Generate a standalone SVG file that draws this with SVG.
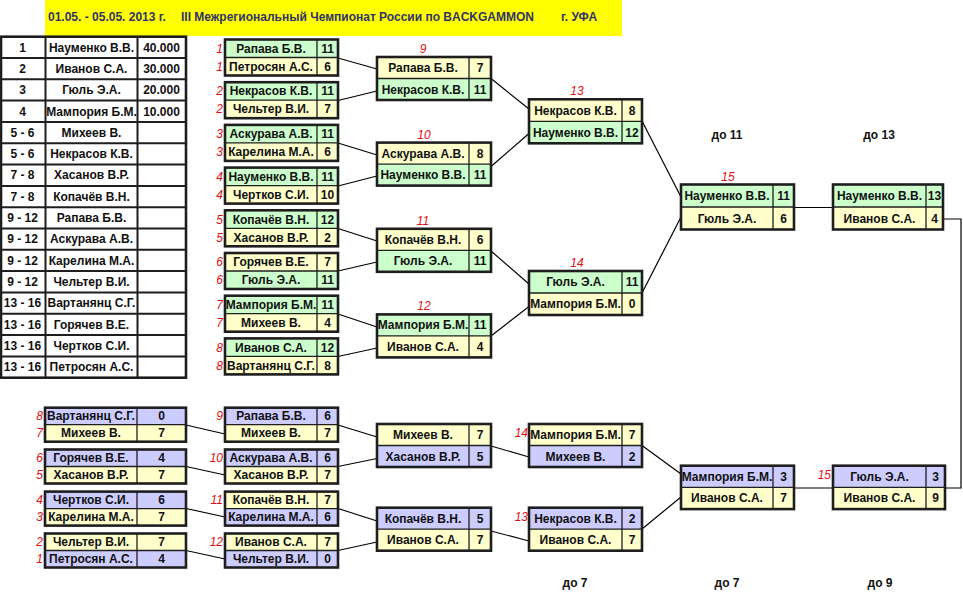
<svg xmlns="http://www.w3.org/2000/svg" width="963" height="600" viewBox="0 0 963 600">
<style>
text{font-family:"Liberation Sans",Arial,sans-serif;font-weight:bold;font-size:12px;fill:#111}
.t{font-size:12px;fill:#33336b}
.c{text-anchor:middle}
.lb{font-weight:normal;font-style:italic;fill:#e01010;font-size:12px}
.e{text-anchor:end}
.g{fill:#ccffcc}.y{fill:#ffffcc}.b{fill:#ccccff}.w{fill:#fff}
.fr{fill:none;stroke:#1e1e1e;stroke-width:2.6}
.sp{stroke:#1e1e1e;stroke-width:1.3}
.tl{stroke:#1e1e1e;stroke-width:2}
.cn{fill:none;stroke:#000;stroke-width:1.2}
</style>
<rect x="45" y="0" width="577" height="36" fill="#ffff00"/>
<text class="t" y="21"><tspan x="48">01.05. - 05.05. 2013 г.</tspan><tspan x="181">III Межрегиональный Чемпионат России по BACKGAMMON</tspan><tspan x="561">г. УФА</tspan></text>

<g id="standings">
<rect class="w" x="1" y="36.7" width="185" height="341"/>
<g class="tl">
<line x1="1" y1="58" x2="186" y2="58"/><line x1="1" y1="79.3" x2="186" y2="79.3"/><line x1="1" y1="100.6" x2="186" y2="100.6"/><line x1="1" y1="121.9" x2="186" y2="121.9"/><line x1="1" y1="143.2" x2="186" y2="143.2"/><line x1="1" y1="164.6" x2="186" y2="164.6"/><line x1="1" y1="185.9" x2="186" y2="185.9"/><line x1="1" y1="207.2" x2="186" y2="207.2"/><line x1="1" y1="228.5" x2="186" y2="228.5"/><line x1="1" y1="249.8" x2="186" y2="249.8"/><line x1="1" y1="271.1" x2="186" y2="271.1"/><line x1="1" y1="292.4" x2="186" y2="292.4"/><line x1="1" y1="313.7" x2="186" y2="313.7"/><line x1="1" y1="335.1" x2="186" y2="335.1"/><line x1="1" y1="356.4" x2="186" y2="356.4"/>
<line x1="45.5" y1="36.7" x2="45.5" y2="377.7"/><line x1="137.5" y1="36.7" x2="137.5" y2="377.7"/>
</g>
<rect class="fr" x="1" y="36.7" width="185" height="341"/>
<g class="c">
<text x="22.5" y="51.6">1</text><text x="91.5" y="51.6">Науменко В.В.</text><text x="161.5" y="51.6">40.000</text>
<text x="22.5" y="72.9">2</text><text x="91.5" y="72.9">Иванов С.А.</text><text x="161.5" y="72.9">30.000</text>
<text x="22.5" y="94.2">3</text><text x="91.5" y="94.2">Гюль Э.А.</text><text x="161.5" y="94.2">20.000</text>
<text x="22.5" y="115.5">4</text><text x="91.5" y="115.5">Мампория Б.М.</text><text x="161.5" y="115.5">10.000</text>
<text x="22.5" y="136.8">5 - 6</text><text x="91.5" y="136.8">Михеев В.</text>
<text x="22.5" y="158.1">5 - 6</text><text x="91.5" y="158.1">Некрасов К.В.</text>
<text x="22.5" y="179.4">7 - 8</text><text x="91.5" y="179.4">Хасанов В.Р.</text>
<text x="22.5" y="200.7">7 - 8</text><text x="91.5" y="200.7">Копачёв В.Н.</text>
<text x="22.5" y="222">9 - 12</text><text x="91.5" y="222">Рапава Б.В.</text>
<text x="22.5" y="243.3">9 - 12</text><text x="91.5" y="243.3">Аскурава А.В.</text>
<text x="22.5" y="264.6">9 - 12</text><text x="91.5" y="264.6">Карелина М.А.</text>
<text x="22.5" y="285.9">9 - 12</text><text x="91.5" y="285.9">Чельтер В.И.</text>
<text x="22.5" y="307.2">13 - 16</text><text x="91.5" y="307.2">Вартанянц С.Г.</text>
<text x="22.5" y="328.5">13 - 16</text><text x="91.5" y="328.5">Горячев В.Е.</text>
<text x="22.5" y="349.8">13 - 16</text><text x="91.5" y="349.8">Чертков С.И.</text>
<text x="22.5" y="371.1">13 - 16</text><text x="91.5" y="371.1">Петросян А.С.</text>
</g>
</g>

<g id="connectors" class="cn">
<line x1="338" y1="58" x2="377" y2="69"/>
<line x1="338" y1="100.5" x2="377" y2="91"/>
<line x1="338" y1="143" x2="377" y2="155"/>
<line x1="338" y1="186" x2="377" y2="176"/>
<line x1="338" y1="228.5" x2="377" y2="241"/>
<line x1="338" y1="271" x2="377" y2="262"/>
<line x1="338" y1="314" x2="377" y2="327"/>
<line x1="338" y1="356.5" x2="377" y2="348"/>
<line x1="491" y1="78.5" x2="529" y2="109"/>
<line x1="491" y1="166.5" x2="529" y2="133.5"/>
<line x1="491" y1="251" x2="529" y2="284"/>
<line x1="491" y1="336" x2="529" y2="306.5"/>
<line x1="642" y1="121" x2="681" y2="197"/>
<line x1="642" y1="293" x2="681" y2="217"/>
<line x1="794" y1="207.5" x2="833" y2="207.5"/>
<polyline points="943,219 961,219 961,488 945,488"/>
<line x1="186" y1="425" x2="225" y2="434"/>
<line x1="186" y1="466.5" x2="225" y2="475"/>
<line x1="186" y1="508.5" x2="225" y2="517"/>
<line x1="186" y1="550.5" x2="225" y2="559"/>
<line x1="338" y1="425" x2="377" y2="437"/>
<line x1="338" y1="466.5" x2="377" y2="458.5"/>
<line x1="338" y1="508.5" x2="377" y2="521"/>
<line x1="338" y1="550.5" x2="377" y2="542"/>
<line x1="491" y1="446" x2="529" y2="457"/>
<line x1="491" y1="531" x2="529" y2="541"/>
<line x1="642" y1="445.5" x2="681" y2="474"/>
<line x1="642" y1="529" x2="681" y2="497"/>
<line x1="794" y1="488" x2="833" y2="488"/>
</g>

<!-- upper round 1 -->
<g id="m1" transform="translate(225,39.5)"><rect class="g" width="113" height="18"/><rect class="y" y="18" width="113" height="18"/><line class="sp" x1="0" y1="18" x2="113" y2="18"/><line class="sp" x1="92" y1="0" x2="92" y2="36"/><rect class="fr" width="113" height="36"/><text class="c" x="46" y="13.3">Рапава Б.В.</text><text class="c" x="102.5" y="13.3">11</text><text class="c" x="46" y="31.3">Петросян А.С.</text><text class="c" x="102.5" y="31.3">6</text><text class="lb e" x="-2" y="13.3">1</text><text class="lb e" x="-2" y="31.3">1</text></g>
<g id="m2" transform="translate(225,82.2)"><rect class="g" width="113" height="18"/><rect class="y" y="18" width="113" height="18"/><line class="sp" x1="0" y1="18" x2="113" y2="18"/><line class="sp" x1="92" y1="0" x2="92" y2="36"/><rect class="fr" width="113" height="36"/><text class="c" x="46" y="13.3">Некрасов К.В.</text><text class="c" x="102.5" y="13.3">11</text><text class="c" x="46" y="31.3">Чельтер В.И.</text><text class="c" x="102.5" y="31.3">7</text><text class="lb e" x="-2" y="13.3">2</text><text class="lb e" x="-2" y="31.3">2</text></g>
<g id="m3" transform="translate(225,124.9)"><rect class="g" width="113" height="18"/><rect class="y" y="18" width="113" height="18"/><line class="sp" x1="0" y1="18" x2="113" y2="18"/><line class="sp" x1="92" y1="0" x2="92" y2="36"/><rect class="fr" width="113" height="36"/><text class="c" x="46" y="13.3">Аскурава А.В.</text><text class="c" x="102.5" y="13.3">11</text><text class="c" x="46" y="31.3">Карелина М.А.</text><text class="c" x="102.5" y="31.3">6</text><text class="lb e" x="-2" y="13.3">3</text><text class="lb e" x="-2" y="31.3">3</text></g>
<g id="m4" transform="translate(225,167.6)"><rect class="g" width="113" height="18"/><rect class="y" y="18" width="113" height="18"/><line class="sp" x1="0" y1="18" x2="113" y2="18"/><line class="sp" x1="92" y1="0" x2="92" y2="36"/><rect class="fr" width="113" height="36"/><text class="c" x="46" y="13.3">Науменко В.В.</text><text class="c" x="102.5" y="13.3">11</text><text class="c" x="46" y="31.3">Чертков С.И.</text><text class="c" x="102.5" y="31.3">10</text><text class="lb e" x="-2" y="13.3">4</text><text class="lb e" x="-2" y="31.3">4</text></g>
<g id="m5" transform="translate(225,210.3)"><rect class="g" width="113" height="18"/><rect class="y" y="18" width="113" height="18"/><line class="sp" x1="0" y1="18" x2="113" y2="18"/><line class="sp" x1="92" y1="0" x2="92" y2="36"/><rect class="fr" width="113" height="36"/><text class="c" x="46" y="13.3">Копачёв В.Н.</text><text class="c" x="102.5" y="13.3">12</text><text class="c" x="46" y="31.3">Хасанов В.Р.</text><text class="c" x="102.5" y="31.3">2</text><text class="lb e" x="-2" y="13.3">5</text><text class="lb e" x="-2" y="31.3">5</text></g>
<g id="m6" transform="translate(225,253)"><rect class="y" width="113" height="18"/><rect class="g" y="18" width="113" height="18"/><line class="sp" x1="0" y1="18" x2="113" y2="18"/><line class="sp" x1="92" y1="0" x2="92" y2="36"/><rect class="fr" width="113" height="36"/><text class="c" x="46" y="13.3">Горячев В.Е.</text><text class="c" x="102.5" y="13.3">7</text><text class="c" x="46" y="31.3">Гюль Э.А.</text><text class="c" x="102.5" y="31.3">11</text><text class="lb e" x="-2" y="13.3">6</text><text class="lb e" x="-2" y="31.3">6</text></g>
<g id="m7" transform="translate(225,295.7)"><rect class="g" width="113" height="18"/><rect class="y" y="18" width="113" height="18"/><line class="sp" x1="0" y1="18" x2="113" y2="18"/><line class="sp" x1="92" y1="0" x2="92" y2="36"/><rect class="fr" width="113" height="36"/><text class="c" x="46" y="13.3">Мампория Б.М.</text><text class="c" x="102.5" y="13.3">11</text><text class="c" x="46" y="31.3">Михеев В.</text><text class="c" x="102.5" y="31.3">4</text><text class="lb e" x="-2" y="13.3">7</text><text class="lb e" x="-2" y="31.3">7</text></g>
<g id="m8" transform="translate(225,338.4)"><rect class="g" width="113" height="18"/><rect class="y" y="18" width="113" height="18"/><line class="sp" x1="0" y1="18" x2="113" y2="18"/><line class="sp" x1="92" y1="0" x2="92" y2="36"/><rect class="fr" width="113" height="36"/><text class="c" x="46" y="13.3">Иванов С.А.</text><text class="c" x="102.5" y="13.3">12</text><text class="c" x="46" y="31.3">Вартанянц С.Г.</text><text class="c" x="102.5" y="31.3">8</text><text class="lb e" x="-2" y="13.3">8</text><text class="lb e" x="-2" y="31.3">8</text></g>

<!-- upper round 2 -->
<g id="m9" transform="translate(377,57)"><rect class="y" width="114" height="21.5"/><rect class="g" y="21.5" width="114" height="21.5"/><line class="sp" x1="0" y1="21.5" x2="114" y2="21.5"/><line class="sp" x1="92" y1="0" x2="92" y2="43"/><rect class="fr" width="114" height="43"/><text class="c" x="46" y="15">Рапава Б.В.</text><text class="c" x="103" y="15">7</text><text class="c" x="46" y="36.5">Некрасов К.В.</text><text class="c" x="103" y="36.5">11</text><text class="lb c" x="46" y="-4.5">9</text></g>
<g id="m10" transform="translate(377,142.6)"><rect class="y" width="114" height="21.5"/><rect class="g" y="21.5" width="114" height="21.5"/><line class="sp" x1="0" y1="21.5" x2="114" y2="21.5"/><line class="sp" x1="92" y1="0" x2="92" y2="43"/><rect class="fr" width="114" height="43"/><text class="c" x="46" y="15">Аскурава А.В.</text><text class="c" x="103" y="15">8</text><text class="c" x="46" y="36.5">Науменко В.В.</text><text class="c" x="103" y="36.5">11</text><text class="lb c" x="47" y="-3.5">10</text></g>
<g id="m11" transform="translate(377,228.8)"><rect class="y" width="114" height="21.5"/><rect class="g" y="21.5" width="114" height="21.5"/><line class="sp" x1="0" y1="21.5" x2="114" y2="21.5"/><line class="sp" x1="92" y1="0" x2="92" y2="43"/><rect class="fr" width="114" height="43"/><text class="c" x="46" y="15">Копачёв В.Н.</text><text class="c" x="103" y="15">6</text><text class="c" x="46" y="36.5">Гюль Э.А.</text><text class="c" x="103" y="36.5">11</text><text class="lb c" x="46" y="-4">11</text></g>
<g id="m12" transform="translate(377,314.4)"><rect class="g" width="114" height="21.5"/><rect class="y" y="21.5" width="114" height="21.5"/><line class="sp" x1="0" y1="21.5" x2="114" y2="21.5"/><line class="sp" x1="92" y1="0" x2="92" y2="43"/><rect class="fr" width="114" height="43"/><text class="c" x="46" y="15">Мампория Б.М.</text><text class="c" x="103" y="15">11</text><text class="c" x="46" y="36.5">Иванов С.А.</text><text class="c" x="103" y="36.5">4</text><text class="lb c" x="47" y="-4">12</text></g>

<!-- upper round 3 -->
<g id="m13" transform="translate(529,99.3)"><rect class="y" width="113" height="22"/><rect class="g" y="22" width="113" height="22"/><line class="sp" x1="0" y1="22" x2="113" y2="22"/><line class="sp" x1="93" y1="0" x2="93" y2="44"/><rect class="fr" width="113" height="44"/><text class="c" x="46.5" y="15.3">Некрасов К.В.</text><text class="c" x="103" y="15.3">8</text><text class="c" x="46.5" y="37.3">Науменко В.В.</text><text class="c" x="103" y="37.3">12</text><text class="lb c" x="48" y="-4">13</text></g>
<g id="m14" transform="translate(529,271)"><rect class="g" width="113" height="22"/><rect class="y" y="22" width="113" height="22"/><line class="sp" x1="0" y1="22" x2="113" y2="22"/><line class="sp" x1="93" y1="0" x2="93" y2="44"/><rect class="fr" width="113" height="44"/><text class="c" x="46.5" y="15.3">Гюль Э.А.</text><text class="c" x="103" y="15.3">11</text><text class="c" x="46.5" y="37.3">Мампория Б.М.</text><text class="c" x="103" y="37.3">0</text><text class="lb c" x="48" y="-4">14</text></g>

<!-- upper round 4 and final -->
<g id="m15" transform="translate(681,184.5)"><rect class="g" width="113" height="22.5"/><rect class="y" y="22.5" width="113" height="22.5"/><line class="sp" x1="0" y1="22.5" x2="113" y2="22.5"/><line class="sp" x1="92" y1="0" x2="92" y2="45"/><rect class="fr" width="113" height="45"/><text class="c" x="46" y="15.6">Науменко В.В.</text><text class="c" x="102.5" y="15.6">11</text><text class="c" x="46" y="38.1">Гюль Э.А.</text><text class="c" x="102.5" y="38.1">6</text><text class="lb c" x="47" y="-3.5">15</text></g>
<g id="mfinal" transform="translate(833,184.5)"><rect class="g" width="110" height="22.5"/><rect class="y" y="22.5" width="110" height="22.5"/><line class="sp" x1="0" y1="22.5" x2="110" y2="22.5"/><line class="sp" x1="93" y1="0" x2="93" y2="45"/><rect class="fr" width="110" height="45"/><text class="c" x="46.5" y="15.6">Науменко В.В.</text><text class="c" x="101.5" y="15.6">13</text><text class="c" x="46.5" y="38.1">Иванов С.А.</text><text class="c" x="101.5" y="38.1">4</text></g>

<!-- lower bracket col 1 -->
<g id="l1" transform="translate(45,407.7)"><rect class="b" width="141" height="17"/><rect class="y" y="17" width="141" height="17"/><line class="sp" x1="0" y1="17" x2="141" y2="17"/><line class="sp" x1="92" y1="0" x2="92" y2="34"/><rect class="fr" width="141" height="34"/><text class="c" x="46" y="12.8">Вартанянц С.Г.</text><text class="c" x="116.5" y="12.8">0</text><text class="c" x="46" y="29.8">Михеев В.</text><text class="c" x="116.5" y="29.8">7</text><text class="lb e" x="-2" y="12.8">8</text><text class="lb e" x="-2" y="29.8">7</text></g>
<g id="l2" transform="translate(45,449.5)"><rect class="b" width="141" height="17"/><rect class="y" y="17" width="141" height="17"/><line class="sp" x1="0" y1="17" x2="141" y2="17"/><line class="sp" x1="92" y1="0" x2="92" y2="34"/><rect class="fr" width="141" height="34"/><text class="c" x="46" y="12.8">Горячев В.Е.</text><text class="c" x="116.5" y="12.8">4</text><text class="c" x="46" y="29.8">Хасанов В.Р.</text><text class="c" x="116.5" y="29.8">7</text><text class="lb e" x="-2" y="12.8">6</text><text class="lb e" x="-2" y="29.8">5</text></g>
<g id="l3" transform="translate(45,491.6)"><rect class="b" width="141" height="17"/><rect class="y" y="17" width="141" height="17"/><line class="sp" x1="0" y1="17" x2="141" y2="17"/><line class="sp" x1="92" y1="0" x2="92" y2="34"/><rect class="fr" width="141" height="34"/><text class="c" x="46" y="12.8">Чертков С.И.</text><text class="c" x="116.5" y="12.8">6</text><text class="c" x="46" y="29.8">Карелина М.А.</text><text class="c" x="116.5" y="29.8">7</text><text class="lb e" x="-2" y="12.8">4</text><text class="lb e" x="-2" y="29.8">3</text></g>
<g id="l4" transform="translate(45,533.5)"><rect class="y" width="141" height="17"/><rect class="b" y="17" width="141" height="17"/><line class="sp" x1="0" y1="17" x2="141" y2="17"/><line class="sp" x1="92" y1="0" x2="92" y2="34"/><rect class="fr" width="141" height="34"/><text class="c" x="46" y="12.8">Чельтер В.И.</text><text class="c" x="116.5" y="12.8">7</text><text class="c" x="46" y="29.8">Петросян А.С.</text><text class="c" x="116.5" y="29.8">4</text><text class="lb e" x="-2" y="12.8">2</text><text class="lb e" x="-2" y="29.8">1</text></g>

<!-- lower col 2 -->
<g id="l5" transform="translate(225,407.7)"><rect class="b" width="113" height="17"/><rect class="y" y="17" width="113" height="17"/><line class="sp" x1="0" y1="17" x2="113" y2="17"/><line class="sp" x1="92" y1="0" x2="92" y2="34"/><rect class="fr" width="113" height="34"/><text class="c" x="46" y="12.8">Рапава Б.В.</text><text class="c" x="102.5" y="12.8">6</text><text class="c" x="46" y="29.8">Михеев В.</text><text class="c" x="102.5" y="29.8">7</text><text class="lb e" x="-2" y="12.8">9</text></g>
<g id="l6" transform="translate(225,449.5)"><rect class="b" width="113" height="17"/><rect class="y" y="17" width="113" height="17"/><line class="sp" x1="0" y1="17" x2="113" y2="17"/><line class="sp" x1="92" y1="0" x2="92" y2="34"/><rect class="fr" width="113" height="34"/><text class="c" x="46" y="12.8">Аскурава А.В.</text><text class="c" x="102.5" y="12.8">6</text><text class="c" x="46" y="29.8">Хасанов В.Р.</text><text class="c" x="102.5" y="29.8">7</text><text class="lb e" x="-2" y="12.8">10</text></g>
<g id="l7" transform="translate(225,491.6)"><rect class="y" width="113" height="17"/><rect class="b" y="17" width="113" height="17"/><line class="sp" x1="0" y1="17" x2="113" y2="17"/><line class="sp" x1="92" y1="0" x2="92" y2="34"/><rect class="fr" width="113" height="34"/><text class="c" x="46" y="12.8">Копачёв В.Н.</text><text class="c" x="102.5" y="12.8">7</text><text class="c" x="46" y="29.8">Карелина М.А.</text><text class="c" x="102.5" y="29.8">6</text><text class="lb e" x="-2" y="12.8">11</text></g>
<g id="l8" transform="translate(225,533.5)"><rect class="y" width="113" height="17"/><rect class="b" y="17" width="113" height="17"/><line class="sp" x1="0" y1="17" x2="113" y2="17"/><line class="sp" x1="92" y1="0" x2="92" y2="34"/><rect class="fr" width="113" height="34"/><text class="c" x="46" y="12.8">Иванов С.А.</text><text class="c" x="102.5" y="12.8">7</text><text class="c" x="46" y="29.8">Чельтер В.И.</text><text class="c" x="102.5" y="29.8">0</text><text class="lb e" x="-2" y="12.8">12</text></g>

<!-- lower col 3 -->
<g id="l9" transform="translate(377,424)"><rect class="y" width="114" height="21.5"/><rect class="b" y="21.5" width="114" height="21.5"/><line class="sp" x1="0" y1="21.5" x2="114" y2="21.5"/><line class="sp" x1="92" y1="0" x2="92" y2="43"/><rect class="fr" width="114" height="43"/><text class="c" x="46" y="15">Михеев В.</text><text class="c" x="103" y="15">7</text><text class="c" x="46" y="36.5">Хасанов В.Р.</text><text class="c" x="103" y="36.5">5</text></g>
<g id="l10" transform="translate(377,507.7)"><rect class="b" width="114" height="21.5"/><rect class="y" y="21.5" width="114" height="21.5"/><line class="sp" x1="0" y1="21.5" x2="114" y2="21.5"/><line class="sp" x1="92" y1="0" x2="92" y2="43"/><rect class="fr" width="114" height="43"/><text class="c" x="46" y="15">Копачёв В.Н.</text><text class="c" x="103" y="15">5</text><text class="c" x="46" y="36.5">Иванов С.А.</text><text class="c" x="103" y="36.5">7</text></g>

<!-- lower col 4 -->
<g id="l11" transform="translate(529,424)"><rect class="y" width="113" height="21.5"/><rect class="b" y="21.5" width="113" height="21.5"/><line class="sp" x1="0" y1="21.5" x2="113" y2="21.5"/><line class="sp" x1="93" y1="0" x2="93" y2="43"/><rect class="fr" width="113" height="43"/><text class="c" x="46.5" y="15">Мампория Б.М.</text><text class="c" x="103" y="15">7</text><text class="c" x="46.5" y="36.5">Михеев В.</text><text class="c" x="103" y="36.5">2</text><text class="lb e" x="-1" y="13">14</text></g>
<g id="l12" transform="translate(529,507.7)"><rect class="b" width="113" height="21.5"/><rect class="y" y="21.5" width="113" height="21.5"/><line class="sp" x1="0" y1="21.5" x2="113" y2="21.5"/><line class="sp" x1="93" y1="0" x2="93" y2="43"/><rect class="fr" width="113" height="43"/><text class="c" x="46.5" y="15">Некрасов К.В.</text><text class="c" x="103" y="15">2</text><text class="c" x="46.5" y="36.5">Иванов С.А.</text><text class="c" x="103" y="36.5">7</text><text class="lb e" x="-1" y="13">13</text></g>

<!-- lower col 5 and lower final -->
<g id="l13" transform="translate(681,465.7)"><rect class="b" width="113" height="21.7"/><rect class="y" y="21.7" width="113" height="21.7"/><line class="sp" x1="0" y1="21.7" x2="113" y2="21.7"/><line class="sp" x1="92" y1="0" x2="92" y2="43.4"/><rect class="fr" width="113" height="43.4"/><text class="c" x="46" y="15.1">Мампория Б.М.</text><text class="c" x="102.5" y="15.1">3</text><text class="c" x="46" y="36.8">Иванов С.А.</text><text class="c" x="102.5" y="36.8">7</text></g>
<g id="l14" transform="translate(833,465.7)"><rect class="b" width="112" height="21.7"/><rect class="y" y="21.7" width="112" height="21.7"/><line class="sp" x1="0" y1="21.7" x2="112" y2="21.7"/><line class="sp" x1="93" y1="0" x2="93" y2="43.4"/><rect class="fr" width="112" height="43.4"/><text class="c" x="46.5" y="15.1">Гюль Э.А.</text><text class="c" x="102.5" y="15.1">3</text><text class="c" x="46.5" y="36.8">Иванов С.А.</text><text class="c" x="102.5" y="36.8">9</text><text class="lb e" x="-2" y="13.5">15</text></g>

<g id="notes" class="c">
<text x="727" y="139">до 11</text>
<text x="879" y="139">до 13</text>
<text x="575" y="587">до 7</text>
<text x="727" y="587">до 7</text>
<text x="880" y="587">до 9</text>
</g>
</svg>
